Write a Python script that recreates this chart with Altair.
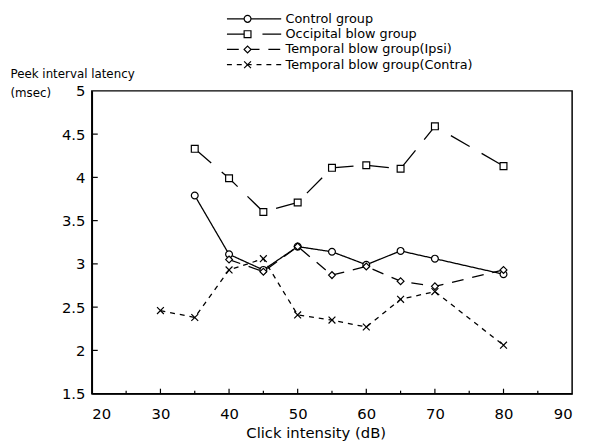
import altair as alt
import pandas as pd

SERIES = [
    "Control group",
    "Occipital blow group",
    "Temporal blow group(Ipsi)",
    "Temporal blow group(Contra)",
]

X_CONTROL = [35, 40, 45, 50, 55, 60, 65, 70, 80]
Y_CONTROL = [3.79, 3.11, 2.93, 3.20, 3.14, 2.99, 3.15, 3.06, 2.88]

X_OCC = [35, 40, 45, 50, 55, 60, 65, 70, 80]
Y_OCC = [4.33, 3.99, 3.60, 3.71, 4.11, 4.14, 4.10, 4.59, 4.13]

X_IPSI = [40, 45, 50, 55, 60, 65, 70, 80]
Y_IPSI = [3.05, 2.91, 3.20, 2.87, 2.97, 2.80, 2.74, 2.93]

X_CONTRA = [30, 35, 40, 45, 50, 55, 60, 65, 70, 80]
Y_CONTRA = [2.46, 2.38, 2.93, 3.06, 2.41, 2.35, 2.27, 2.59, 2.68, 2.06]

X_LABELS = [20, 30, 40, 50, 60, 70, 80, 90]
X_MAJOR_TICKS = [30, 40, 50, 60, 70, 80]
X_MINOR_TICKS = [25, 35, 45, 55, 65, 75, 85]
Y_LABELS = [1.5, 2, 2.5, 3, 3.5, 4, 4.5, 5]
Y_TICKS = [2, 2.5, 3, 3.5, 4, 4.5]

rows = []
for name, xs, ys in [
    (SERIES[0], X_CONTROL, Y_CONTROL),
    (SERIES[1], X_OCC, Y_OCC),
    (SERIES[2], X_IPSI, Y_IPSI),
    (SERIES[3], X_CONTRA, Y_CONTRA),
]:
    for xv, yv in zip(xs, ys):
        rows.append({"series": name, "x": xv, "y": yv})
df = pd.DataFrame(rows)

FONT = "DejaVu Sans"
dash_scale = alt.Scale(domain=SERIES, range=[[1, 0], [22, 14], [12, 9], [5, 5]])
shape_scale = alt.Scale(
    domain=SERIES,
    range=["circle", "square", "diamond", "M-1,-1L1,1M-1,1L1,-1"],
)
size_scale = alt.Scale(domain=SERIES, range=[48, 48, 32, 50])

xscale = alt.Scale(domain=[20, 90], nice=False, zero=False)
yscale = alt.Scale(domain=[1.5, 5], nice=False, zero=False)

X = alt.X(
    "x:Q",
    scale=xscale,
    axis=alt.Axis(
        values=X_LABELS,
        title="Click intensity (dB)",
        labelPadding=13,
        titleX=227,
        titleY=44,
        titleAlign="center",
        titleBaseline="alphabetic",
        titleFontSize=15,
    ),
)
Y = alt.Y(
    "y:Q",
    scale=yscale,
    axis=alt.Axis(
        values=Y_LABELS,
        format="~g",
        title=["Peek interval latency", "(msec)"],
        labelPadding=7,
        titleAngle=0,
        titleAlign="left",
        titleBaseline="alphabetic",
        titleX=-83,
        titleY=-14,
        titleFontSize=12,
        titleLineHeight=20,
    ),
)

lines = alt.Chart(df).mark_line(color="black", strokeWidth=1.3).encode(
    x=X,
    y=Y,
    detail="series:N",
    strokeDash=alt.StrokeDash("series:N", scale=dash_scale, legend=None),
)
points = alt.Chart(df).mark_point(
    filled=True, fill="white", stroke="black", strokeWidth=1.2, opacity=1
).encode(
    x=X,
    y=Y,
    shape=alt.Shape("series:N", scale=shape_scale, legend=None),
    size=alt.Size("series:N", scale=size_scale, legend=None),
)

xt_major = alt.Chart(pd.DataFrame({"x": X_MAJOR_TICKS})).mark_rule(
    color="black", strokeWidth=1.2
).encode(x="x:Q", y=alt.value(307), y2=alt.value(302))
xt_minor = alt.Chart(pd.DataFrame({"x": X_MINOR_TICKS})).mark_rule(
    color="black", strokeWidth=1.2
).encode(x="x:Q", y=alt.value(307), y2=alt.value(304))
yt = alt.Chart(pd.DataFrame({"y": Y_TICKS})).mark_rule(
    color="black", strokeWidth=1.2
).encode(y="y:Q", x=alt.value(0), x2=alt.value(6))

main = alt.layer(lines, xt_major, xt_minor, yt, points)

# legend, placed above the plot with its own scales
leg_df = pd.DataFrame(
    {
        "series": SERIES,
        "row": [0, 1, 2, 3],
        "x0": [0, 0, 0, 0],
        "x1": [1, 1, 1, 1],
        "xm": [0.38, 0.38, 0.38, 0.38],
        "xt": [1.08, 1.08, 1.08, 1.08],
    }
)
LX = alt.Scale(domain=[0, 1], range=[137, 192], nice=False, zero=False)
LY = alt.Scale(domain=[0, 3], range=[-73, -26.5], nice=False, zero=False)

leg_line = alt.Chart(leg_df).mark_rule(color="black", strokeWidth=1.3).encode(
    x=alt.X("x0:Q", scale=LX, axis=None),
    x2="x1:Q",
    y=alt.Y("row:Q", scale=LY, axis=None),
    strokeDash=alt.StrokeDash("series:N", scale=dash_scale, legend=None),
)
leg_pt = alt.Chart(leg_df).mark_point(
    filled=True, fill="white", stroke="black", strokeWidth=1.2, opacity=1
).encode(
    x=alt.X("xm:Q", scale=LX, axis=None),
    y=alt.Y("row:Q", scale=LY, axis=None),
    shape=alt.Shape("series:N", scale=shape_scale, legend=None),
    size=alt.Size("series:N", scale=size_scale, legend=None),
)
leg_txt = alt.Chart(leg_df).mark_text(
    align="left", baseline="middle", font=FONT, fontSize=13, color="black"
).encode(
    x=alt.X("xt:Q", scale=LX, axis=None),
    y=alt.Y("row:Q", scale=LY, axis=None),
    text="series:N",
)
legend = alt.layer(leg_line, leg_pt, leg_txt)

chart = (
    alt.layer(main, legend)
    .resolve_scale(x="independent", y="independent")
    .properties(
        width=487,
        height=307,
        padding={"left": 85, "top": 81, "right": 9, "bottom": 45},
        autosize=alt.AutoSizeParams(type="none"),
        background="white",
    )
    .configure_view(stroke="black", strokeWidth=1.5)
    .configure_axis(
        grid=False,
        ticks=False,
        domainColor="black",
        domainWidth=1.5,
        labelFont=FONT,
        labelFontSize=15,
        labelColor="black",
        titleFont=FONT,
        titleFontWeight="normal",
        titleColor="black",
    )
)

chart.save("out.html", embed_options={"renderer": "svg", "actions": False})
